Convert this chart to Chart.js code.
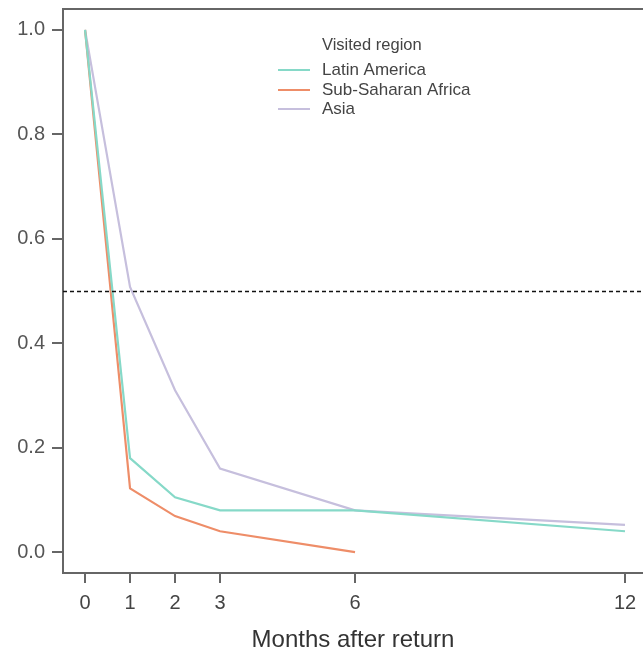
<!DOCTYPE html>
<html>
<head>
<meta charset="utf-8">
<script src="https://cdn.jsdelivr.net/npm/chart.js@4.4.1/dist/chart.umd.min.js"></script>
<style>
  html, body { margin: 0; padding: 0; background: #fff; }
  #wrap { width: 643px; height: 655px; }
</style>
</head>
<body>
<div id="wrap"><canvas id="grafico"></canvas></div>
<script>
// Datos
const meses = [0, 1, 2, 3, 6, 12];
const latinAmerica = [1.0, 0.18, 0.105, 0.08, 0.08, 0.04];
const subSaharan = [1.0, 0.122, 0.069, 0.04, 0.0];
const asia = [1.0, 0.508, 0.31, 0.16, 0.08, 0.052];
const yTicks = [0.0, 0.2, 0.4, 0.6, 0.8, 1.0];
const referencia = 0.5;

const nombres = ['Latin America', 'Sub-Saharan Africa', 'Asia'];
const colores = ['#86d9c8', '#ee8d68', '#c6bfdd'];
const fuente = '"Liberation Sans", Arial, sans-serif';

function puntos(valores) {
    return valores.map((v, i) => ({ x: meses[i], y: v }));
}

// Línea discontinua, caja y leyenda
const extras = {
    id: 'extras',
    afterDatasetsDraw(chart) {
        const ctx = chart.ctx;
        const a = chart.chartArea;
        const y = Math.round(chart.scales.y.getPixelForValue(referencia)) + 0.5;
        ctx.save();
        ctx.strokeStyle = '#111';
        ctx.lineWidth = 1.3;
        ctx.setLineDash([4, 3]);
        ctx.beginPath();
        ctx.moveTo(a.left, y);
        ctx.lineTo(a.right, y);
        ctx.stroke();
        ctx.setLineDash([]);

        // borde superior
        ctx.strokeStyle = '#666';
        ctx.lineWidth = 2;
        ctx.beginPath();
        ctx.moveTo(a.left, a.top);
        ctx.lineTo(a.right, a.top);
        ctx.stroke();

        // leyenda
        ctx.fillStyle = '#444';
        ctx.font = '16.5px ' + fuente;
        ctx.textBaseline = 'middle';
        ctx.fillText('Visited region', 322, 45);
        ctx.font = '17px ' + fuente;
        const filas = [70, 90, 109];
        nombres.forEach((n, i) => {
            ctx.strokeStyle = colores[i];
            ctx.lineWidth = 2;
            ctx.beginPath();
            ctx.moveTo(278, filas[i]);
            ctx.lineTo(310, filas[i]);
            ctx.stroke();
            ctx.fillText(n, 322, filas[i]);
        });
        ctx.restore();
    }
};

const ctx = document.getElementById('grafico').getContext('2d');
new Chart(ctx, {
    type: 'line',
    data: {
        datasets: [
            { label: nombres[0], data: puntos(latinAmerica), borderColor: colores[0] },
            { label: nombres[1], data: puntos(subSaharan), borderColor: colores[1] },
            { label: nombres[2], data: puntos(asia), borderColor: colores[2] }
        ]
    },
    options: {
        responsive: true,
        maintainAspectRatio: false,
        animation: false,
        layout: { padding: { top: 9, left: 0, right: 0, bottom: 0 } },
        elements: {
            line: { borderWidth: 2.2, tension: 0 },
            point: { radius: 0 }
        },
        plugins: {
            legend: { display: false },
            tooltip: { enabled: false }
        },
        scales: {
            x: {
                type: 'linear',
                min: -0.49,
                max: 12.4,
                afterBuildTicks: s => { s.ticks = meses.map(v => ({ value: v })); },
                afterFit: s => { s.height = 82; s.paddingLeft = 0; s.paddingRight = 0; },
                grid: { drawOnChartArea: false, drawTicks: true, tickLength: 10, color: '#666', lineWidth: 2 },
                border: { color: '#666', width: 2 },
                ticks: { color: '#444', padding: 8, font: { size: 20, family: fuente }, maxRotation: 0 },
                title: {
                    display: true,
                    text: 'Months after return',
                    color: '#333',
                    padding: { top: 0, bottom: 0 },
                    font: { size: 24, family: fuente }
                }
            },
            y: {
                min: -0.04,
                max: 1.04,
                afterBuildTicks: s => { s.ticks = yTicks.map(v => ({ value: v })); },
                afterFit: s => { s.width = 63; s.paddingTop = 0; s.paddingBottom = 0; },
                grid: { drawOnChartArea: false, drawTicks: true, tickLength: 11, color: '#666', lineWidth: 2 },
                border: { color: '#666', width: 2 },
                ticks: {
                    color: '#555',
                    padding: 7,
                    font: { size: 20, family: fuente },
                    callback: v => v.toFixed(1)
                }
            }
        }
    },
    plugins: [extras]
});
</script>
</body>
</html>
